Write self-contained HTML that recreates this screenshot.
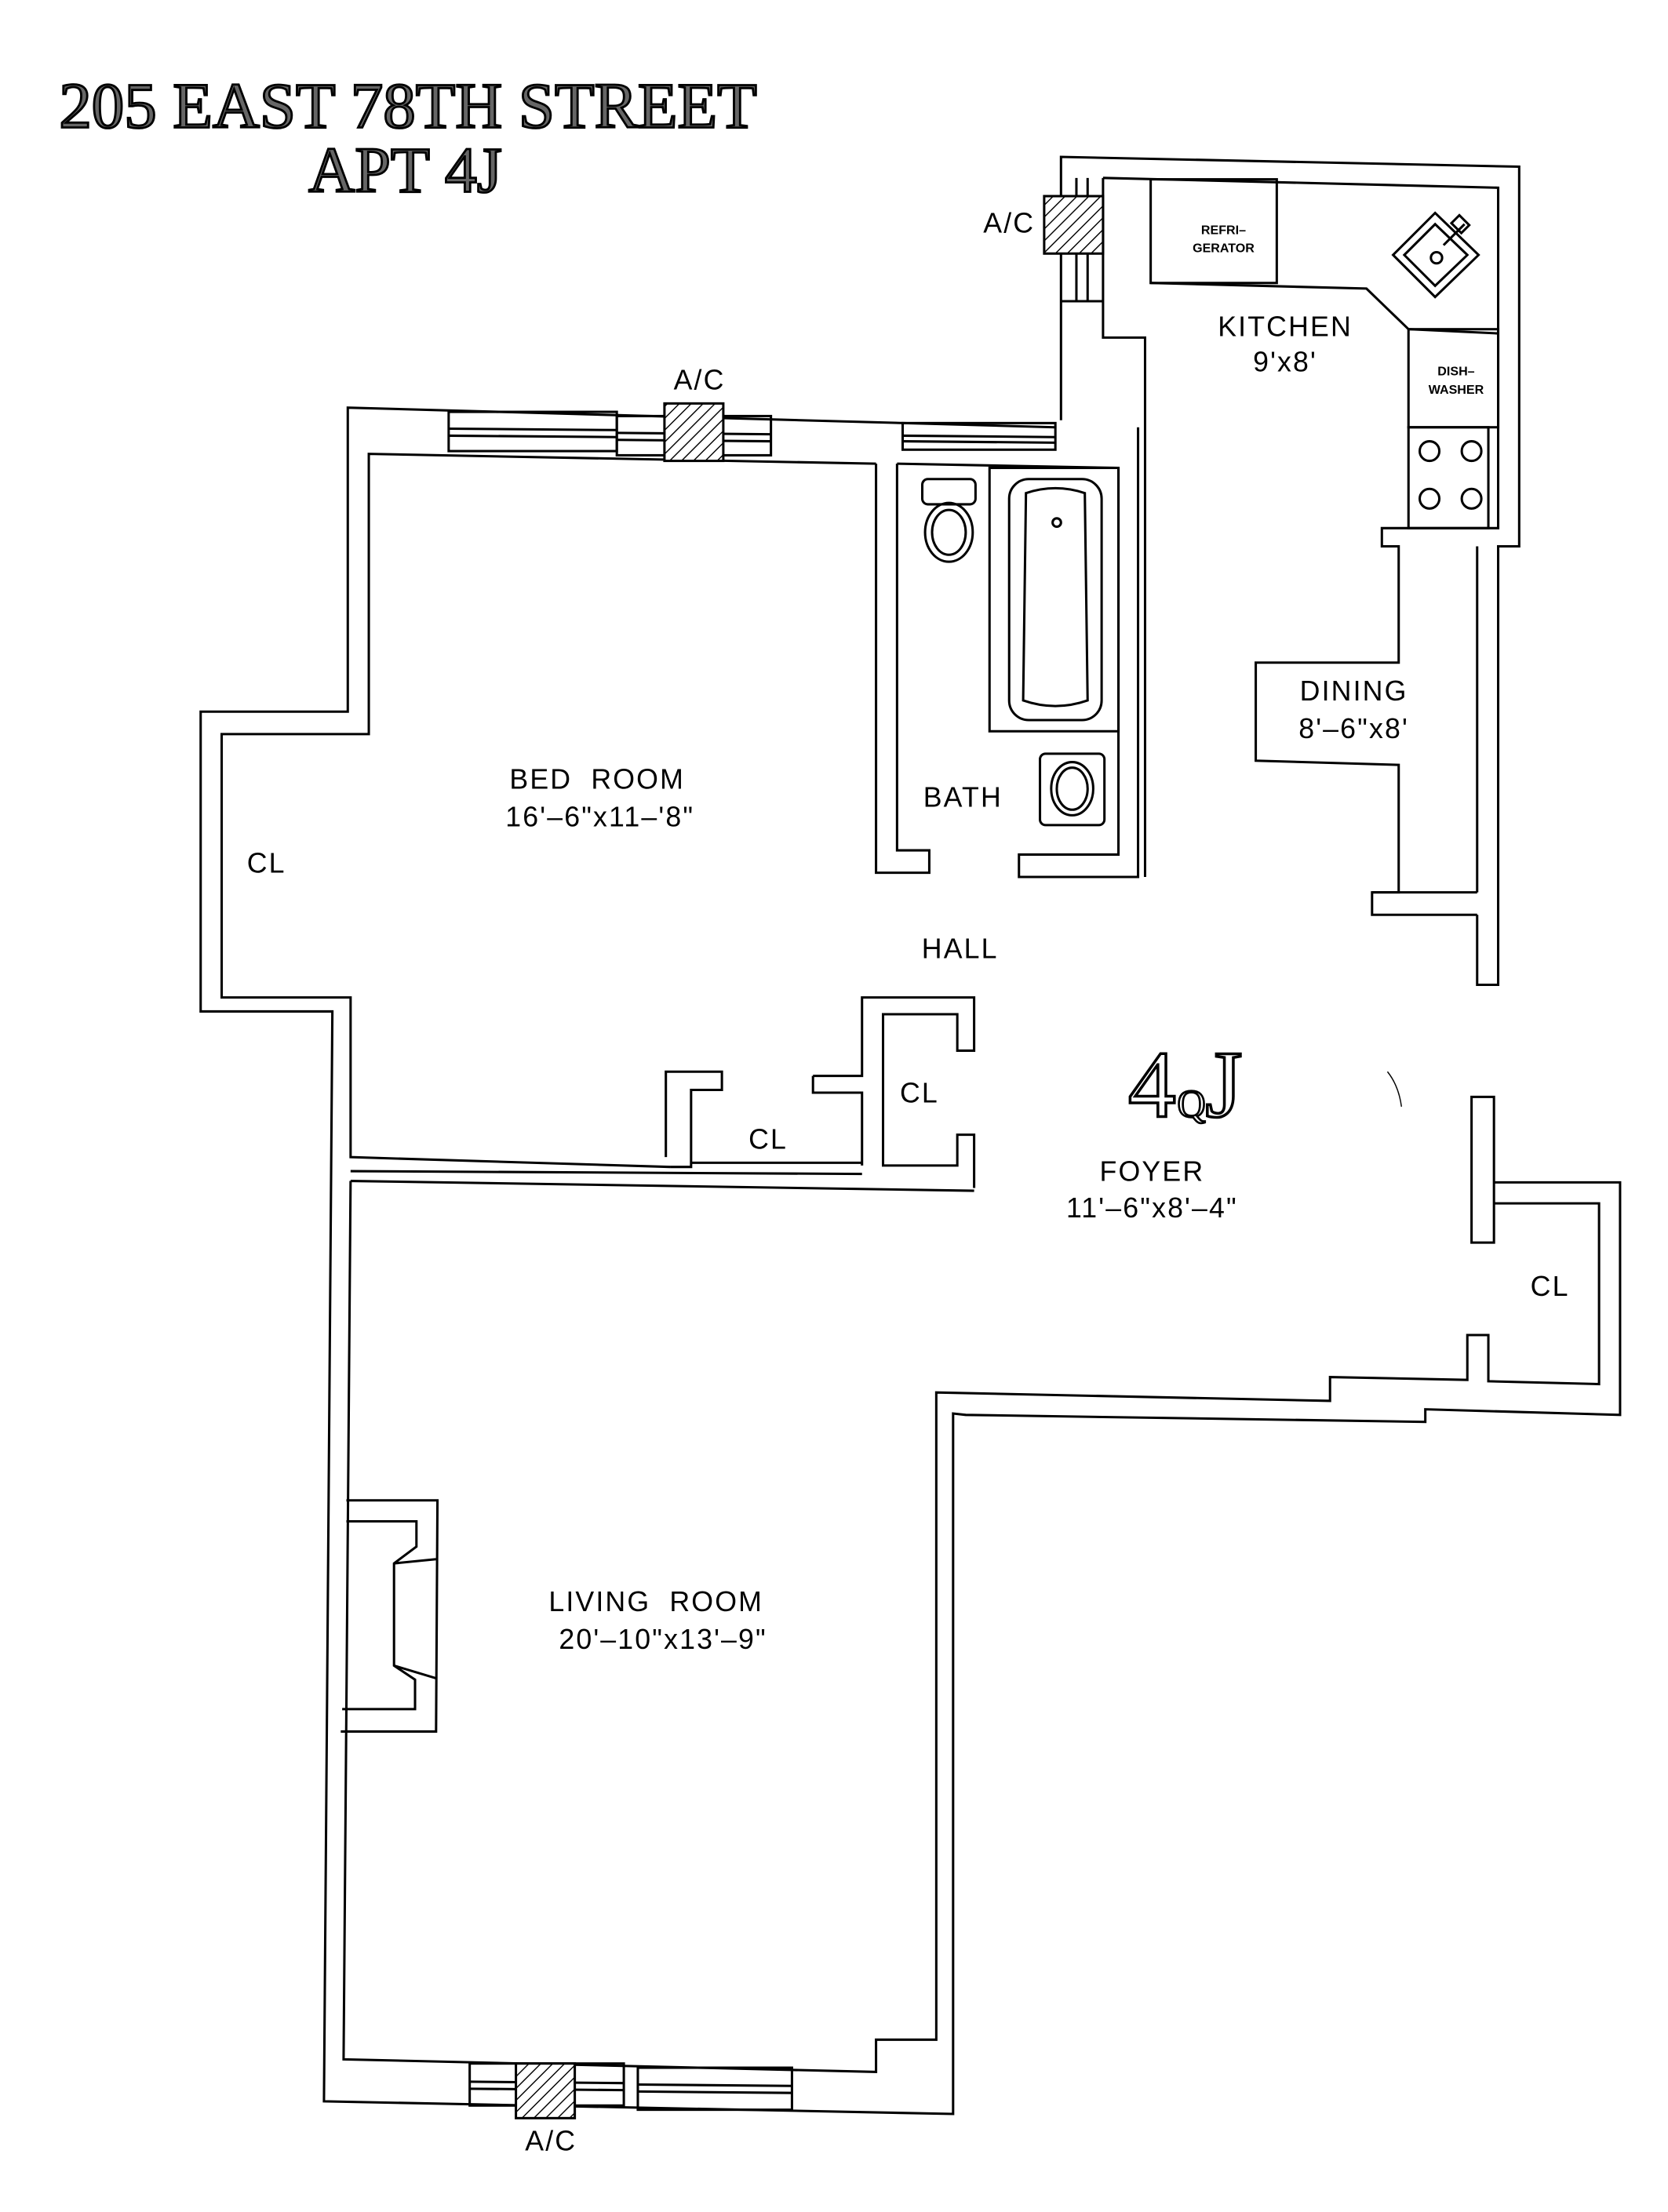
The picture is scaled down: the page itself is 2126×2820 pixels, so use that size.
<!DOCTYPE html>
<html><head><meta charset="utf-8"><style>
html,body{margin:0;padding:0;background:#fff;}
svg{display:block;}
.w{fill:none;stroke:#000;stroke-width:1.7;stroke-linejoin:miter;}
.t{font-family:"Liberation Sans",sans-serif;fill:#000;text-anchor:middle;}
</style></head><body>
<svg width="2126" height="2820" viewBox="0 0 1190 1579" xmlns="http://www.w3.org/2000/svg">
<defs>
<pattern id="h" width="6" height="6" patternUnits="userSpaceOnUse" patternTransform="rotate(45)">
<rect width="6" height="6" fill="#fff"/><line x1="0" y1="0" x2="0" y2="6" stroke="#000" stroke-width="1.6"/></pattern>
</defs>
<rect width="1190" height="1579" fill="#fff"/>
<!-- Title -->
<text x="42" y="91" font-family="Liberation Serif,serif" font-size="46" fill="#666" stroke="#000" stroke-width="1.6" textLength="498" lengthAdjust="spacingAndGlyphs">205 EAST 78TH STREET</text>
<text x="220" y="137" font-family="Liberation Serif,serif" font-size="46" fill="#666" stroke="#000" stroke-width="1.6" textLength="138" lengthAdjust="spacingAndGlyphs">APT 4J</text>

<!-- Kitchen outer -->
<polyline class="w" points="757,300 757,112 1084,119 1084,390 1069,390 1069,703 1054,703 1054,653"/>
<polyline class="w" points="787,127 1069,134 1069,377 986,377 986,390 998,390 998,473 896,473 896,543 998,546 998,637 979,637 979,653 1054,653"/>
<line class="w" x1="1054" y1="390" x2="1054" y2="637"/>
<line class="w" x1="979" y1="637" x2="1054" y2="637"/>
<polyline class="w" points="787,127 787,241 817,241 817,626"/>
<line class="w" x1="768" y1="127" x2="768" y2="215"/>
<line class="w" x1="776" y1="127" x2="776" y2="215"/>
<line class="w" x1="757" y1="215" x2="787" y2="215"/>
<rect x="745" y="140" width="42" height="41" fill="url(#h)" stroke="#000" stroke-width="1.7"/>
<rect class="w" x="821" y="128" width="90" height="74"/>
<polyline class="w" points="821,202 975,206 1005,235 1069,238"/>
<rect class="w" x="1005" y="235" width="64" height="70"/>
<rect class="w" x="1005" y="305" width="57" height="72"/>
<circle class="w" cx="1020" cy="322" r="7"/><circle class="w" cx="1050" cy="322" r="7"/>
<circle class="w" cx="1020" cy="356" r="7"/><circle class="w" cx="1050" cy="356" r="7"/>
<polygon class="w" points="1024,152 1055,182 1024,212 994,182"/>
<polygon class="w" points="1024,160 1047,182 1024,204 1002,182"/>
<circle class="w" cx="1025" cy="184" r="4"/>
<line class="w" x1="1030" y1="175" x2="1045" y2="160"/>
<rect class="w" x="1037" y="156" width="10" height="8" transform="rotate(45 1042 160)"/>

<!-- Bedroom / main outline -->
<polyline class="w" points="753,305 248,291 248,508 143,508 143,722 237,722 231,1500 680,1509 680,1009 689,1010 1017,1015 1017,1006 1156,1010 1156,844 1066,844"/>
<polyline class="w" points="625,331 263,324 263,524 158,524 158,712 250,712 250,826 478,833"/>
<rect class="w" x="320" y="294" width="120" height="28"/>
<line class="w" x1="320" y1="306" x2="440" y2="307"/><line class="w" x1="320" y1="311" x2="440" y2="312"/>
<rect class="w" x="440" y="297" width="110" height="28"/>
<line class="w" x1="440" y1="309" x2="550" y2="310"/><line class="w" x1="440" y1="314" x2="550" y2="315"/>
<rect x="474" y="288" width="42" height="41" fill="url(#h)" stroke="#000" stroke-width="1.7"/>
<rect class="w" x="644" y="302" width="109" height="19"/>
<line class="w" x1="644" y1="311" x2="753" y2="312"/><line class="w" x1="644" y1="315" x2="753" y2="316"/>

<!-- Bath -->
<polyline class="w" points="625,331 625,623 663,623 663,607 640,607 640,331"/>
<line class="w" x1="640" y1="331" x2="798" y2="334"/>
<polyline class="w" points="798,334 798,610 727,610 727,626 812,626 812,305"/>
<rect class="w" x="706" y="334" width="92" height="188"/>
<rect class="w" x="720" y="342" width="66" height="172" rx="14"/>
<path class="w" d="M732,352 Q753,345 774,352 L776,500 Q753,508 730,500 Z"/>
<circle class="w" cx="754" cy="373" r="3"/>
<rect class="w" x="658" y="342" width="38" height="18" rx="4"/>
<ellipse class="w" cx="677" cy="380" rx="17" ry="21"/>
<ellipse class="w" cx="677" cy="380" rx="12" ry="16"/>
<rect class="w" x="742" y="538" width="46" height="51" rx="4"/>
<ellipse class="w" cx="765" cy="563" rx="15" ry="19"/>
<ellipse class="w" cx="765" cy="563" rx="11" ry="15"/>

<!-- closets near hall -->
<polyline class="w" points="478,833 493,833 493,778 515,778 515,765 475,765 475,826"/>
<line class="w" x1="493" y1="830" x2="615" y2="830"/>
<polyline class="w" points="580,768 615,768 615,712 695,712 695,750 683,750 683,724 630,724 630,832 683,832 683,810 695,810 695,848"/>
<polyline class="w" points="580,768 580,780 615,780 615,832"/>
<polyline class="w" points="250,843 695,850"/>
<line class="w" x1="250" y1="836" x2="615" y2="838"/>
<polyline class="w" points="250,843 245,1470 625,1479 625,1456 668,1456 668,994 949,1000 949,983 1047,985 1047,953 1062,953 1062,986 1141,988 1141,859 1066,859"/>
<rect class="w" x="1050" y="783" width="16" height="104"/>
<!-- fireplace -->
<polyline class="w" points="247,1071 312,1071 311,1236 243,1236"/>
<polyline class="w" points="247,1086 297,1086 297,1104 281,1116 281,1189 296,1199 296,1220 244,1220"/>
<line class="w" x1="281" y1="1116" x2="311" y2="1113"/><line class="w" x1="281" y1="1189" x2="311" y2="1198"/>
<!-- bottom window -->
<rect class="w" x="335" y="1473" width="110" height="30"/>
<line class="w" x1="335" y1="1486" x2="445" y2="1487"/><line class="w" x1="335" y1="1491" x2="445" y2="1492"/>
<rect class="w" x="455" y="1476" width="110" height="30"/>
<line class="w" x1="455" y1="1488" x2="565" y2="1489"/><line class="w" x1="455" y1="1493" x2="565" y2="1494"/>
<rect x="368" y="1473" width="42" height="39" fill="url(#h)" stroke="#000" stroke-width="1.7"/>

<!-- labels -->
<g class="t" font-size="20" letter-spacing="1.2">
<text x="426" y="563">BED&#160;&#160;ROOM</text>
<text x="428" y="590">16'–6"x11–'8"</text>
<text x="190" y="623">CL</text>
<text x="687" y="576">BATH</text>
<text x="685" y="684">HALL</text>
<text x="917" y="240">KITCHEN</text>
<text x="917" y="265">9'x8'</text>
<text x="966" y="500">DINING</text>
<text x="966" y="527">8'–6"x8'</text>
<text x="656" y="787">CL</text>
<text x="548" y="820">CL</text>
<text x="822" y="843">FOYER</text>
<text x="822" y="869">11'–6"x8'–4"</text>
<text x="1106" y="925">CL</text>
<text x="468" y="1150">LIVING&#160;&#160;ROOM</text>
<text x="473" y="1177">20'–10"x13'–9"</text>
<text x="393" y="1535">A/C</text>
<text x="499" y="278">A/C</text>
<text x="720" y="166">A/C</text>
</g>
<g class="t" font-size="9" font-weight="bold">
<text x="873" y="167">REFRI–</text><text x="873" y="180">GERATOR</text>
<text x="1039" y="268">DISH–</text><text x="1039" y="281">WASHER</text>
</g>
<text x="805" y="797" font-family="Liberation Serif,serif" font-size="68" fill="#fff" stroke="#000" stroke-width="2">4</text>
<text x="840" y="797" font-family="Liberation Serif,serif" font-size="28" fill="#fff" stroke="#000" stroke-width="1.5">Q</text>
<text x="860" y="797" font-family="Liberation Serif,serif" font-size="68" fill="#fff" stroke="#000" stroke-width="2">J</text>
<path d="M990,765 Q998,775 1000,790" fill="none" stroke="#000" stroke-width="0.8"/>
</svg>
</body></html>
